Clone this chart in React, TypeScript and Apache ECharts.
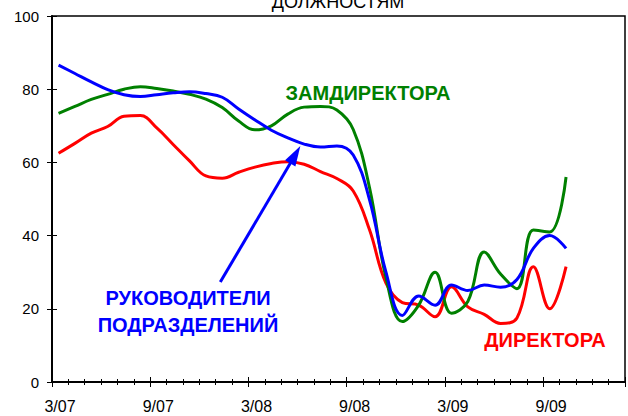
import React, { useEffect, useRef } from "react";
import * as echarts from "echarts";

// x position in months counted from March 2007 (0 = 3/07)
const months = [0.4, 1.4, 2.4, 3.4, 4.4, 5.4, 6.4, 7.4, 8.4, 9.4, 10.4, 11.4, 12.4, 13.4, 14.4, 15.4, 16.4, 17.4, 18.4, 19.4, 20.4, 21.4, 22.4, 23.4, 24.4, 25.4, 26.4, 27.4, 28.4, 29.4, 30.4, 31.4];
const tickLabels = ["3/07", "9/07", "3/08", "9/08", "3/09", "9/09"];
const yTicks = [0, 20, 40, 60, 80, 100];

// РУКОВОДИТЕЛИ ПОДРАЗДЕЛЕНИЙ (blue)
const managers = [86.6, 84.3, 82.0, 79.9, 78.5, 78.0, 78.5, 79.0, 79.3, 78.8, 77.8, 74.6, 71.6, 68.8, 66.7, 65.0, 64.2, 64.5, 62.0, 49.7, 30.0, 18.2, 23.5, 21.0, 26.5, 25.0, 26.5, 25.9, 28.0, 36.5, 40.0, 36.5];
// ЗАМДИРЕКТОРА (green)
const deputies = [73.4, 75.3, 77.2, 78.6, 80.0, 80.7, 80.2, 79.5, 78.6, 77.3, 75.0, 71.3, 68.9, 70.0, 73.2, 75.1, 75.3, 74.3, 69.0, 53.0, 28.5, 16.5, 21.0, 30.0, 18.8, 22.0, 35.5, 29.5, 25.5, 41.5, 41.0, 56.0];
// ДИРЕКТОРА (red)
const directors = [62.5, 65.2, 68.0, 69.8, 72.6, 72.8, 69.4, 64.9, 60.4, 56.3, 55.7, 57.3, 58.7, 59.7, 60.2, 59.5, 57.5, 55.6, 52.2, 41.5, 27.0, 21.7, 21.0, 17.8, 26.0, 20.5, 18.5, 16.0, 17.5, 31.5, 20.0, 31.5];

// arrow from the label to the blue line: [month, value]
const arrowFrom = [10.28, 27.3];
const arrowTo = [14.86, 62.1];

const FONT = "Liberation Sans";
const BLUE = "#0000FF";
const GREEN = "#008000";
const RED = "#FF0000";

export default function App() {
  const ref = useRef<HTMLDivElement>(null);
  useEffect(() => {
    document.body.style.margin = "0";
    const chart = echarts.init(ref.current!, undefined, { renderer: "svg" });
    const xBase: any = {
      type: "value",
      min: 0,
      max: 35,
      position: "bottom",
      splitLine: { show: false },
      axisLine: { show: false },
      axisLabel: { show: false },
    };
    const tickStyle = { color: "#000", width: 1 };
    const option: any = {
      animation: false,
      grid: {
        left: 52,
        top: 16,
        width: 573,
        height: 366,
        show: true,
        borderColor: "#000",
        borderWidth: 1.5,
        backgroundColor: "transparent",
      },
      xAxis: [
        {
          ...xBase,
          interval: 6,
          axisLine: { show: true, onZero: false, lineStyle: { color: "#000", width: 2 } },
          axisTick: { show: true, inside: false, length: 5, lineStyle: tickStyle },
          axisLabel: {
            show: true,
            formatter: (v: number) => (v % 6 === 0 && tickLabels[v / 6]) || "",
            fontSize: 16,
            color: "#000",
            fontFamily: FONT,
            margin: 16,
            padding: [0, 0, 0, 16],
          },
        },
        { ...xBase, interval: 6, axisTick: { show: true, inside: true, length: 5, lineStyle: tickStyle } },
        { ...xBase, interval: 1, axisTick: { show: true, inside: false, length: 3, lineStyle: tickStyle } },
        { ...xBase, interval: 1, axisTick: { show: true, inside: true, length: 3, lineStyle: tickStyle } },
      ],
      yAxis: [
        {
          type: "value",
          min: yTicks[0],
          max: yTicks[yTicks.length - 1],
          interval: 20,
          position: "left",
          axisLine: { show: true, onZero: false, lineStyle: { color: "#000", width: 2 } },
          axisTick: { show: true, inside: false, length: 5, lineStyle: tickStyle },
          axisLabel: { fontSize: 15, color: "#000", fontFamily: FONT, margin: 13 },
          splitLine: { show: false },
        },
        {
          type: "value",
          min: yTicks[0],
          max: yTicks[yTicks.length - 1],
          interval: 20,
          position: "left",
          axisLine: { show: false },
          axisTick: { show: true, inside: true, length: 5, lineStyle: tickStyle },
          axisLabel: { show: false },
          splitLine: { show: false },
        },
      ],
      series: [
        {
          name: "ДИРЕКТОРА",
          type: "line",
          data: months.map((m, i) => [m, directors[i]]),
          smooth: 0.4,
          showSymbol: false,
          lineStyle: { color: RED, width: 3 },
          itemStyle: { color: RED },
          silent: true,
        },
        {
          name: "ЗАМДИРЕКТОРА",
          type: "line",
          data: months.map((m, i) => [m, deputies[i]]),
          smooth: 0.4,
          showSymbol: false,
          lineStyle: { color: GREEN, width: 3 },
          itemStyle: { color: GREEN },
          silent: true,
        },
        {
          name: "РУКОВОДИТЕЛИ ПОДРАЗДЕЛЕНИЙ",
          type: "line",
          data: months.map((m, i) => [m, managers[i]]),
          smooth: 0.4,
          showSymbol: false,
          lineStyle: { color: BLUE, width: 3 },
          itemStyle: { color: BLUE },
          silent: true,
          markLine: {
            silent: true,
            symbol: ["none", "triangle"],
            symbolSize: [12, 20],
            label: { show: false },
            lineStyle: { color: BLUE, width: 3, type: "solid" },
            itemStyle: { color: BLUE },
            data: [[{ coord: arrowFrom }, { coord: arrowTo }]],
          },
        },
      ],
      graphic: [
        {
          type: "text",
          x: 338,
          y: 2,
          style: {
            text: "ДОЛЖНОСТЯМ",
            fontSize: 18,
            fontFamily: FONT,
            fill: "#000",
            align: "center",
            verticalAlign: "middle",
          },
        },
        {
          type: "text",
          x: 368,
          y: 93,
          style: {
            text: "ЗАМДИРЕКТОРА",
            fontSize: 20,
            fontWeight: "bold",
            fontFamily: FONT,
            fill: GREEN,
            align: "center",
            verticalAlign: "middle",
          },
        },
        {
          type: "text",
          x: 188,
          y: 311.5,
          style: {
            text: "РУКОВОДИТЕЛИ\nПОДРАЗДЕЛЕНИЙ",
            fontSize: 20,
            fontWeight: "bold",
            fontFamily: FONT,
            lineHeight: 27,
            fill: BLUE,
            align: "center",
            verticalAlign: "middle",
          },
        },
        {
          type: "text",
          x: 545,
          y: 340,
          style: {
            text: "ДИРЕКТОРА",
            fontSize: 20,
            fontWeight: "bold",
            fontFamily: FONT,
            fill: RED,
            align: "center",
            verticalAlign: "middle",
          },
        },
      ],
    };
    chart.setOption(option);
    return () => chart.dispose();
  }, []);
  return <div ref={ref} style={{ width: 628, height: 416 }} />;
}
